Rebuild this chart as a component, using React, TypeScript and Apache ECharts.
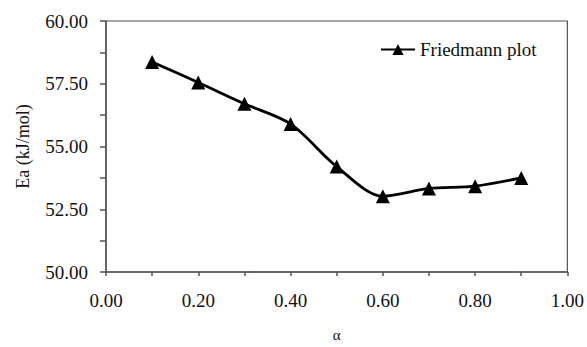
import React, { useEffect, useRef } from "react";
import * as echarts from "echarts";

const alphaValues = [0.1, 0.2, 0.3, 0.4, 0.5, 0.6, 0.7, 0.8, 0.9];
const eaValues = [58.37, 57.55, 56.7, 55.9, 54.2, 53.02, 53.33, 53.42, 53.75];
const seriesName = "Friedmann plot";

const FONT = "'Liberation Serif', 'Times New Roman', serif";

export default function App() {
  const ref = useRef<HTMLDivElement>(null);
  useEffect(() => {
    if (!ref.current) return;
    const chart = echarts.init(ref.current, null, { renderer: "svg" });
    const axisColor = "#555";
    chart.setOption({
      animation: false,
      backgroundColor: "#fff",
      textStyle: { fontFamily: FONT },
      grid: {
        left: 106,
        top: 21,
        right: 18,
        bottom: 71,
        show: true,
        borderColor: axisColor,
        borderWidth: 1.2,
      },
      legend: {
        left: 380,
        top: 40,
        padding: 0,
        itemWidth: 34,
        itemHeight: 14,
        textStyle: { fontFamily: FONT, fontSize: 19, color: "#111" },
        data: [seriesName],
      },
      xAxis: {
        type: "value",
        min: 0,
        max: 1,
        interval: 0.2,
        name: "α",
        nameLocation: "middle",
        nameGap: 55,
        nameTextStyle: { fontFamily: FONT, fontSize: 15, color: "#111" },
        axisLine: { show: true, lineStyle: { color: axisColor, width: 1.5 } },
        axisTick: { show: true, length: 4, lineStyle: { color: axisColor, width: 1.5 } },
        minorTick: { show: true, splitNumber: 2, length: 4, lineStyle: { color: axisColor, width: 1.5 } },
        splitLine: { show: false },
        axisLabel: {
          fontFamily: FONT,
          fontSize: 19,
          color: "#111",
          margin: 19,
          formatter: (v: number) => v.toFixed(2),
        },
      },
      yAxis: {
        type: "value",
        min: 50,
        max: 60,
        interval: 2.5,
        name: "Ea (kJ/mol)",
        nameLocation: "middle",
        nameGap: 74,
        nameTextStyle: { fontFamily: FONT, fontSize: 18, color: "#111" },
        axisLine: { show: true, lineStyle: { color: axisColor, width: 1.5 } },
        axisTick: { show: true, length: 6, lineStyle: { color: axisColor, width: 1.5 } },
        minorTick: { show: true, splitNumber: 2, length: 6, lineStyle: { color: axisColor, width: 1.5 } },
        splitLine: { show: false },
        axisLabel: {
          fontFamily: FONT,
          fontSize: 19,
          color: "#111",
          margin: 18,
          formatter: (v: number) => v.toFixed(2),
        },
      },
      series: [
        {
          name: seriesName,
          type: "line",
          data: alphaValues.map((a, i) => [a, eaValues[i]]),
          smooth: 0.3,
          symbol: "triangle",
          symbolSize: 14,
          itemStyle: { color: "#000" },
          lineStyle: { color: "#000", width: 2.8 },
        },
      ],
    });
    return () => chart.dispose();
  }, []);
  return (
    <div
      ref={ref}
      style={{ position: "fixed", left: 0, top: 0, width: 587, height: 347 }}
    />
  );
}
